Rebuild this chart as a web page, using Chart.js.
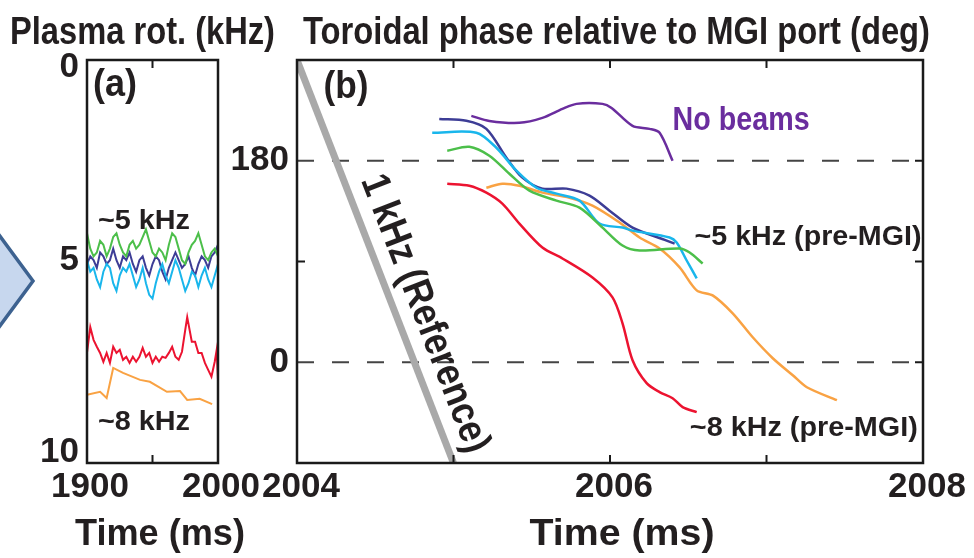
<!DOCTYPE html>
<html>
<head>
<meta charset="utf-8">
<script src="https://cdn.jsdelivr.net/npm/chart.js@4.4.1/dist/chart.umd.min.js"></script>
<style>
  body { margin: 0; background: #fff; width: 974px; height: 558px; overflow: hidden; position: relative; }
  #arrow { position: absolute; left: 0; top: 0; }
  #ca { position: absolute; left: 0; top: 0; }
  #cb { position: absolute; left: 225px; top: 0; }
</style>
</head>
<body>
<svg id="arrow" width="60" height="558"><polygon points="-12,220 33,281 -12,342" fill="#c7d7ee" stroke="#3d6290" stroke-width="3.5"/></svg>
<canvas id="ca" width="290" height="558"></canvas>
<canvas id="cb" width="749" height="558"></canvas>
<script>
// ---- panel (a): plasma rotation, kHz ----
var rotTime = [1900, 1902.5, 1905, 1907.5, 1910, 1912.5, 1915, 1917.5, 1920, 1922.5, 1925, 1927.5, 1930, 1932.5, 1935, 1937.5, 1940, 1942.5, 1945, 1947.5, 1950,
               1952.5, 1955, 1957.5, 1960, 1962.5, 1965, 1967.5, 1970, 1972.5, 1975, 1977.5, 1980, 1982.5, 1985, 1987.5, 1990, 1992.5, 1995, 1997.5, 2000];
var rotGreen = [4.3, 4.7, 4.9, 4.8, 4.5, 4.6, 4.9, 4.7, 4.4, 4.3, 4.6, 4.8, 4.9, 4.6, 4.5, 4.7, 4.6, 4.4, 4.2, 4.5, 4.8,
                4.9, 4.7, 4.8, 5.0, 4.6, 4.3, 4.4, 4.7, 5.0, 5.1, 4.8, 4.6, 4.5, 4.3, 4.6, 4.9, 5.0, 4.8, 4.7, 4.9];
var rotNavy = [5.1, 4.9, 5.0, 5.2, 4.8, 4.9, 5.1, 5.0, 4.7, 5.0, 5.2, 4.9, 5.0, 4.8, 5.1, 5.3, 5.0, 4.9, 5.2, 5.4, 5.1,
               4.9, 5.0, 5.3, 5.5, 5.2, 5.0, 4.8, 5.0, 5.2, 5.1, 4.9, 5.2, 5.4, 5.1, 4.9, 5.0, 5.2, 4.9, 4.8, 4.6];
var rotCyan = [5.0, 5.3, 5.2, 5.5, 5.7, 5.3, 5.1, 5.2, 5.6, 5.8, 5.4, 5.2, 5.3, 5.1, 5.4, 5.7, 5.5, 5.2, 5.6, 5.9, 6.0,
               5.6, 5.3, 5.1, 5.4, 5.6, 5.3, 5.0, 5.2, 5.5, 5.8, 5.6, 5.3, 5.4, 5.7, 5.4, 5.2, 5.5, 5.7, 5.4, 5.1];
var rotRedTime = [1900, 1902.5, 1905, 1907.5, 1910, 1912.5, 1915, 1917.5, 1920, 1922.5, 1925, 1927.5, 1930, 1932.5, 1935, 1937.5, 1940, 1942.5, 1945, 1947.5, 1950,
                  1952.5, 1955, 1957.5, 1960, 1962.5, 1965, 1967.5, 1970, 1972.5, 1975, 1976.5, 1980, 1982.5, 1985, 1987.5, 1990, 1992.5, 1995, 1997.5, 1999, 2000];
var rotRed = [7.4, 6.74, 7.07, 7.25, 7.41, 7.64, 7.41, 7.67, 7.25, 7.41, 7.33, 7.59, 7.51, 7.67, 7.51, 7.64, 7.51, 7.28, 7.51, 7.41, 7.67,
              7.51, 7.64, 7.51, 7.54, 7.41, 7.25, 7.51, 7.59, 7.38, 6.81, 6.48, 7.12, 7.12, 7.41, 7.41, 7.67, 7.85, 8.03, 7.64, 7.33, 8.11];
var rotOrangeTime = [1900, 1910, 1915, 1920, 1927.5, 1940.5, 1948, 1961, 1971, 1976.5, 1986, 1995.5];
var rotOrange = [8.5, 8.42, 8.58, 7.8, 7.93, 8.11, 8.16, 8.42, 8.4, 8.63, 8.6, 8.74];
var rotTickX = [1900, 2000];
var rotTickY = [0, 5, 10];

// ---- panel (b): toroidal phase, deg ----
var noBeamTime = [2005.114, 2005.229, 2005.421, 2005.568, 2005.696, 2005.786, 2005.952, 2006.010, 2006.144, 2006.253, 2006.317, 2006.400];
var noBeamPhase = [220.1, 215.6, 213.9, 218.3, 226.3, 230.8, 230.8, 227.2, 211.2, 208.5, 205.0, 180.0];
var navyTime = [2004.909, 2005.082, 2005.210, 2005.338, 2005.440, 2005.568, 2005.722, 2005.869, 2005.997, 2006.144, 2006.362, 2006.413];
var navyPhase = [217.4, 215.7, 208.5, 182.7, 164.9, 155.1, 155.1, 148.8, 135.4, 120.3, 108.7, 106.0];
var cyanTime = [2004.864, 2005.146, 2005.274, 2005.402, 2005.530, 2005.658, 2005.805, 2005.933, 2006.080, 2006.144, 2006.381, 2006.426, 2006.490, 2006.554];
var cyanPhase = [205.0, 205.0, 191.6, 171.1, 155.9, 150.6, 144.4, 123.9, 120.3, 117.6, 111.4, 106.9, 90.9, 74.9];
var greenTime = [2004.960, 2005.101, 2005.229, 2005.357, 2005.485, 2005.658, 2005.805, 2005.952, 2006.080, 2006.189, 2006.445, 2006.509, 2006.592];
var greenPhase = [188.9, 192.5, 184.5, 168.4, 153.3, 144.4, 138.1, 120.3, 104.3, 99.8, 101.6, 98.0, 88.2];
var orangeTime = [2005.210, 2005.312, 2005.421, 2005.568, 2005.741, 2005.888, 2006.061, 2006.189, 2006.317, 2006.445, 2006.554, 2006.656, 2006.784, 2006.912, 2007.040, 2007.168, 2007.258, 2007.450];
var orangePhase = [155.9, 159.5, 157.7, 151.5, 147.0, 139.9, 124.8, 111.4, 101.6, 84.7, 64.2, 59.7, 43.7, 22.3, 3.6, -11.6, -22.3, -33.9];
var redTime = [2004.960, 2005.101, 2005.210, 2005.312, 2005.421, 2005.568, 2005.696, 2005.888, 2006.016, 2006.080, 2006.144, 2006.234, 2006.317, 2006.400, 2006.464, 2006.554];
var redPhase = [159.5, 157.7, 151.5, 141.7, 123.9, 102.5, 92.7, 75.7, 57.9, 34.8, 1.8, -18.7, -26.7, -32.1, -40.1, -44.6];
var refTime = [2004, 2005];
var refPhase = [270, -90];
var dashTime = [2004, 2008];
var phaseTickX = [2004, 2006, 2008];
var phaseTickY = [0, 180];

var FONT = "'Liberation Sans', Arial, sans-serif";
var INK = '#231f20';
var C = { purple: '#6a2d9e', navy: '#3d3d96', cyan: '#19b6ec', green: '#4cbf4a', orange: '#f9a243', red: '#ec1330', grey: '#a9a9a9' };

function pts(xs, ys) { return xs.map(function (x, i) { return { x: x, y: ys[i] }; }); }
function line(data, color, extra) {
  return Object.assign({ data: data, borderColor: color, borderWidth: 2.5, pointRadius: 0, fill: false, tension: 0 }, extra || {});
}

// condensed-looking text: squeeze horizontally to the width seen in the figure
function squeezed(ctx, text, x, y, size, width, align) {
  ctx.save();
  ctx.font = 'bold ' + size + 'px ' + FONT;
  var w = ctx.measureText(text).width;
  var k = width ? width / w : 1;
  ctx.translate(x, y);
  ctx.scale(k, 1);
  ctx.textAlign = align || 'left';
  ctx.textBaseline = 'middle';
  ctx.fillText(text, 0, 0);
  ctx.restore();
}

// box, inside ticks and text labels
function framePlugin(cfg) {
  return {
    id: 'frame',
    afterDraw: function (chart) {
      var ctx = chart.ctx, a = chart.chartArea, x = chart.scales.x, y = chart.scales.y;
      ctx.save();
      ctx.strokeStyle = '#1a1a1a';
      ctx.lineWidth = 2.5;
      ctx.strokeRect(a.left, a.top, a.right - a.left, a.bottom - a.top);
      ctx.lineWidth = 2;
      ctx.beginPath();
      cfg.xMarks.forEach(function (v) {
        var px = x.getPixelForValue(v);
        ctx.moveTo(px, a.top); ctx.lineTo(px, a.top + 8);
        ctx.moveTo(px, a.bottom); ctx.lineTo(px, a.bottom - 8);
      });
      (cfg.yMarksLeft || []).forEach(function (v) {
        var py = y.getPixelForValue(v);
        ctx.moveTo(a.left, py); ctx.lineTo(a.left + 8, py);
      });
      (cfg.yMarksRight || []).forEach(function (v) {
        var py = y.getPixelForValue(v);
        ctx.moveTo(a.right, py); ctx.lineTo(a.right - 8, py);
      });
      ctx.stroke();

      ctx.fillStyle = INK;
      squeezed(ctx, cfg.title.text, cfg.title.x, 33, 39, cfg.title.w);
      squeezed(ctx, 'Time (ms)', cfg.xTitle.x, 535, 36, cfg.xTitle.w, 'center');

      cfg.labels.forEach(function (l) {
        ctx.fillStyle = l.color || INK;
        squeezed(ctx, l.text, x.getPixelForValue(l.x), y.getPixelForValue(l.y), l.size, l.w);
      });

      if (cfg.rotated) {
        var r = cfg.rotated;
        var x1 = x.getPixelForValue(refTime[0]), y1 = y.getPixelForValue(refPhase[0]);
        var x2 = x.getPixelForValue(refTime[1]), y2 = y.getPixelForValue(refPhase[1]);
        var ang = Math.atan2(y2 - y1, x2 - x1);
        var cx = x1 + (x2 - x1) * r.f + Math.sin(ang) * r.d;
        var cy = y1 + (y2 - y1) * r.f - Math.cos(ang) * r.d;
        ctx.translate(cx, cy);
        ctx.rotate(ang);
        ctx.fillStyle = INK;
        squeezed(ctx, r.text, 0, 0, r.size, r.w, 'center');
      }
      ctx.restore();
    }
  };
}

function axes(xMin, xMax, xTicks, xShift, yMin, yMax, yTicks, yReverse, yWidth) {
  var tickFont = { family: FONT, size: 35, weight: 'bold' };
  return {
    x: {
      type: 'linear', min: xMin, max: xMax,
      grid: { display: false, drawTicks: false }, border: { display: false },
      afterBuildTicks: function (s) { s.ticks = xTicks.map(function (v) { return { value: v }; }); },
      ticks: { font: tickFont, color: INK, padding: 3, labelOffset: xShift, maxRotation: 0, autoSkip: false, callback: function (v) { return String(v); } },
      afterFit: function (s) { s.height = 95; }
    },
    y: {
      type: 'linear', min: yMin, max: yMax, reverse: yReverse,
      grid: { display: false, drawTicks: false }, border: { display: false },
      afterBuildTicks: function (s) { s.ticks = yTicks.map(function (v) { return { value: v }; }); },
      ticks: { font: tickFont, color: INK, padding: 8, autoSkip: false, callback: function (v) { return String(v); } },
      afterFit: function (s) { s.width = yWidth; }
    }
  };
}

new Chart(document.getElementById('ca'), {
  type: 'line',
  data: {
    datasets: [
      line(pts(rotTime, rotGreen), C.green, { borderWidth: 2 }),
      line(pts(rotTime, rotCyan), C.cyan, { borderWidth: 2 }),
      line(pts(rotTime, rotNavy), C.navy, { borderWidth: 2 }),
      line(pts(rotRedTime, rotRed), C.red, { borderWidth: 2 }),
      line(pts(rotOrangeTime, rotOrange), C.orange, { borderWidth: 2 })
    ]
  },
  options: {
    responsive: false, animation: false,
    layout: { padding: { left: 0, right: 72, top: 60, bottom: 0 } },
    plugins: { legend: { display: false }, tooltip: { enabled: false } },
    scales: axes(1900, 2000, rotTickX, 3, -0.2, 10.27, rotTickY, true, 87)
  },
  plugins: [framePlugin({
    title: { text: 'Plasma rot. (kHz)', x: 10, w: 265 },
    xTitle: { x: 160, w: 170 },
    xMarks: [1950],
    labels: [
      { text: '(a)', x: 1904.6, y: 0.45, size: 38, w: 44 },
      { text: '~5 kHz', x: 1908.4, y: 4.0, size: 28, w: 92 },
      { text: '~8 kHz', x: 1908.4, y: 9.2, size: 28, w: 92 }
    ]
  })]
});

new Chart(document.getElementById('cb'), {
  type: 'line',
  data: {
    datasets: [
      line(pts(dashTime, [180, 180]), '#444', { borderWidth: 2, borderDash: [17, 18], order: 10 }),
      line(pts(dashTime, [0, 0]), '#444', { borderWidth: 2, borderDash: [17, 18], order: 10 }),
      line(pts(refTime, refPhase), C.grey, { borderWidth: 7, order: 9 }),
      line(pts(noBeamTime, noBeamPhase), C.purple, { tension: 0.3, order: 1 }),
      line(pts(greenTime, greenPhase), C.green, { tension: 0.3, order: 1 }),
      line(pts(cyanTime, cyanPhase), C.cyan, { tension: 0.3, order: 1 }),
      line(pts(navyTime, navyPhase), C.navy, { tension: 0.3, order: 1 }),
      line(pts(orangeTime, orangePhase), C.orange, { tension: 0.3, order: 1 }),
      line(pts(redTime, redPhase), C.red, { tension: 0.3, order: 1 })
    ]
  },
  options: {
    responsive: false, animation: false,
    layout: { padding: { left: 0, right: 51, top: 60, bottom: 0 } },
    plugins: { legend: { display: false }, tooltip: { enabled: false } },
    scales: axes(2004, 2008, phaseTickX, 4, -90, 270, phaseTickY, false, 72)
  },
  plugins: [framePlugin({
    title: { text: 'Toroidal phase relative to MGI port (deg)', x: 78, w: 627 },
    xTitle: { x: 397, w: 185 },
    xMarks: [2005, 2006, 2007],
    yMarksLeft: [90],
    yMarksRight: [0, 90, 180],
    labels: [
      { text: '(b)', x: 2004.17, y: 245, size: 38, w: 45 },
      { text: 'No beams', x: 2006.40, y: 215.6, size: 33, w: 137, color: C.purple },
      { text: '~5 kHz (pre-MGI)', x: 2006.54, y: 111.4, size: 28, w: 227 },
      { text: '~8 kHz (pre-MGI)', x: 2006.51, y: -58.8, size: 28, w: 228 }
    ],
    rotated: { text: '1 kHz (Reference)', f: 0.654, d: 27, size: 40, w: 295 }
  })]
});
</script>
</body>
</html>
